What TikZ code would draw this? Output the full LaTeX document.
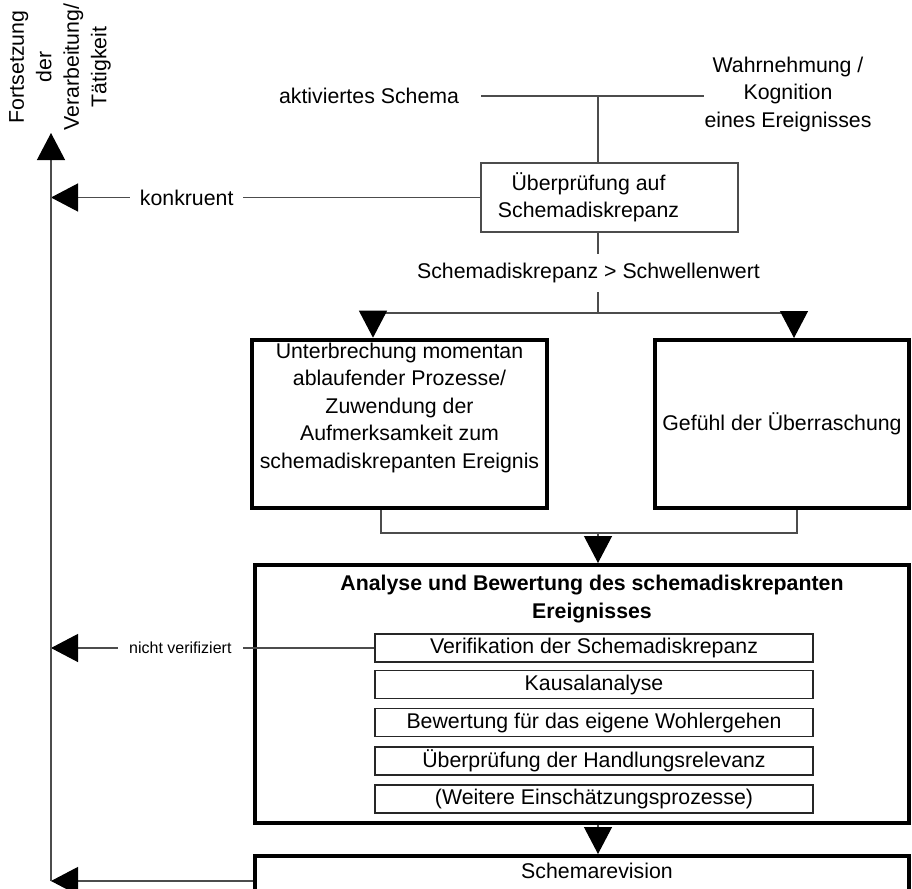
\documentclass[tikz,border=0pt]{standalone}
\usepackage{fontspec}
\setmainfont{Liberation Sans}
\usetikzlibrary{arrows.meta}

\tikzset{
  txt/.style={inner sep=0pt},
  lbl/.style={fill=white,inner xsep=10pt,inner ysep=2pt},
  line/.style={draw=black!70,line width=1.2pt},
  arr/.style={line,-{Triangle[length=27pt,width=28pt,black]}},
  bigbox/.style={draw,line width=4pt,minimum height=168pt},
  subbox/.style={draw=black!85,line width=1.2pt,minimum width=438pt,minimum height=28pt,inner sep=0pt},
}

\begin{document}
\begin{tikzpicture}[x=1pt,y=-1pt,font=\fontsize{21.3}{27.5}\selectfont]
\useasboundingbox (0,0) rectangle (912,888);
\clip (0,0) rectangle (912,888);
% oben
\node[txt] (aktiv) at (369,96) {aktiviertes Schema};
\node[txt,align=center] (wahr) at (788,94) {Wahrnehmung /\\Kognition\\eines Ereignisses};
\node[txt,rotate=90,align=center] (fort) at (60,67) {Fortsetzung\\der\\Verarbeitung/\\T\"atigkeit};
\coordinate (jtop) at (598,97);
\coordinate (axtop) at (51,133);
\node[draw=black!70,line width=1.2pt,minimum width=257pt,minimum height=69pt,align=center] (pruef) at (609.5,197.5) {\"Uberpr\"ufung auf\hspace*{42pt}\\Schemadiskrepanz\hspace*{42pt}};
\draw[line] ([xshift=22pt]aktiv.east)--(aktiv.east -| wahr.west);
\draw[line] (jtop)--(jtop |- pruef.north);
\draw[arr] (pruef.west)--node[lbl,pos=.684] (konk) {konkruent}(pruef.west -| axtop);
% Schwellenwert
\coordinate (jsplit) at (598,313);
\draw[line] (jtop |- pruef.south)--node[lbl,inner ysep=9pt,xshift=-9.5pt] (thresh) {Schemadiskrepanz > Schwellenwert}(jsplit);
\node[bigbox,minimum width=295pt,align=center] (unterbr) at (399.5,424) {Unterbrechung momentan\\ablaufender Prozesse/\\Zuwendung der\\Aufmerksamkeit zum\\schemadiskrepanten Ereignis\\[9pt]\mbox{}};
\node[bigbox,minimum width=254pt] (gefuehl) at (782,424) {Gef\"uhl der \"Uberraschung};
\coordinate (sl) at (373,313);
\coordinate (sr) at (794,313);
\draw[line] (sl)--(sr);
\draw[arr] (sl)--(sl |- unterbr.north);
\draw[arr] (sr)--(sr |- gefuehl.north);
% Klammer
\coordinate (bl) at (381,533);
\coordinate (br) at (797,533);
\draw[line] (bl |- unterbr.south)--(bl)--(br)--(br |- gefuehl.south);
% Analyse
\node[bigbox,minimum width=654pt,minimum height=258pt] (analyse) at (582,694) {};
\draw[arr] (jtop |- bl)--(jtop |- analyse.north);
\node[txt,font=\fontsize{21.3}{27.5}\selectfont\bfseries,align=center] (titel) at (592,599) {Analyse und Bewertung des schemadiskrepanten\\Ereignisses};
\node[subbox] (verif) at (594,648) {Verifikation der Schemadiskrepanz};
\node[subbox] (kausal) at (594,684.5) {Kausalanalyse};
\node[subbox] (bewert) at (594,722.5) {Bewertung f\"ur das eigene Wohlergehen};
\node[subbox] (handl) at (594,761) {\"Uberpr\"ufung der Handlungsrelevanz};
\node[subbox] (weitere) at (594,799) {(Weitere Einsch\"atzungsprozesse)};
\draw[arr] (verif.west)--node[lbl,pos=.6,inner xsep=11.5pt,font=\fontsize{16}{19}\selectfont] (nv) {nicht verifiziert}(verif.west -| axtop);
% Revision
\node[bigbox,minimum width=654pt,minimum height=50pt,anchor=north,align=center] (revision) at (582,854) {\hspace*{30pt}Schemarevision\\[-7pt]\mbox{}};
\draw[arr] (jtop |- analyse.south)--(jtop |- revision.north);
\draw[arr] (revision.west)--(revision.west -| axtop);
\draw[arr] (revision.west -| axtop)--(axtop);
\end{tikzpicture}
\end{document}
